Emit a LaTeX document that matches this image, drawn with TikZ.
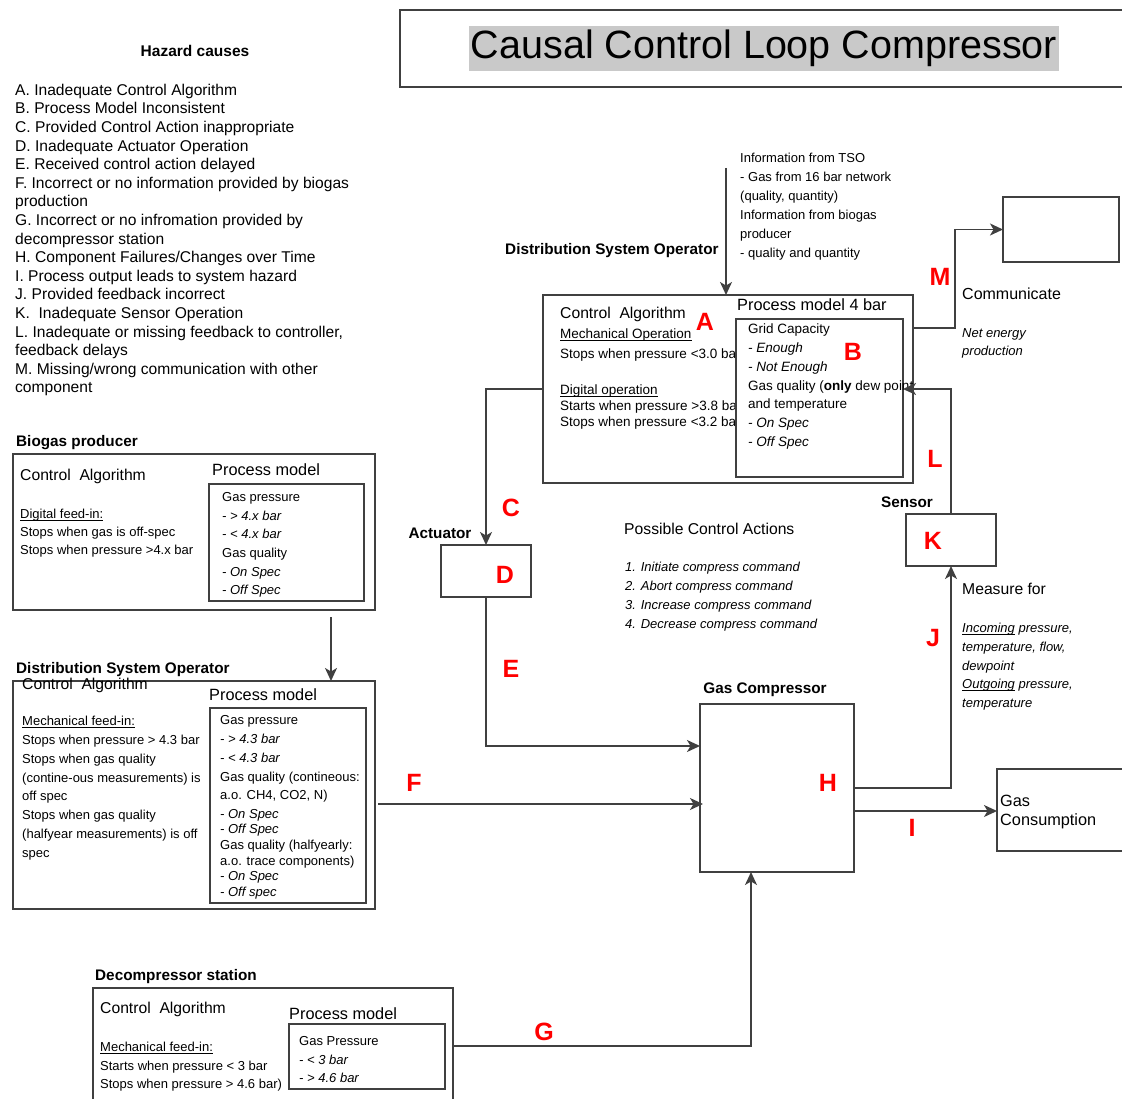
\documentclass[tikz,border=0pt]{standalone}
\usepackage{fontspec}
\setmainfont{Liberation Sans}
\usetikzlibrary{arrows.meta}
\definecolor{ln}{RGB}{64,64,64}
\definecolor{hzred}{RGB}{255,0,0}
\definecolor{ttlbg}{RGB}{201,201,201}
\newcommand\fs[2]{\fontsize{#1}{#2}\selectfont}
\newsavebox\ulbox
\newcommand\ulx[1]{\sbox\ulbox{#1}\leavevmode\rlap{\rule[-1.8pt]{\wd\ulbox}{0.7pt}}\usebox\ulbox}
\begin{document}
\begin{tikzpicture}[x=1pt,y=-1pt,
 box/.style={draw=ln,line width=1.5pt,inner sep=0pt,outer sep=0pt},
 arr/.style={draw=ln,line width=1.5pt,-{Stealth[length=13pt,width=12pt,inset=3.5pt]}},
 tb/.style={anchor=north west,inner sep=0pt,align=left},
 tl/.style={anchor=base west,inner sep=0pt},
 hz/.style={text=hzred,font=\fs{25}{25}\bfseries,inner sep=0pt,anchor=center},
 lbl/.style={anchor=base west,inner sep=0pt,font=\fs{15.3}{18}\bfseries},
]
\useasboundingbox (0,0) rectangle (1122,1099);
\clip (0,0) rectangle (1122,1099);

% ---------- title ----------
\node[box,anchor=north west,minimum width=760pt,minimum height=77pt] (ttlbox) at (400,10) {};
\node[fill=ttlbg,inner xsep=2pt,inner ysep=4pt,font=\fs{39.5}{42}] (ttl) at (764,48.5) {Causal Control Loop Compressor};

% ---------- hazard causes ----------
\node[anchor=base,inner sep=0pt,font=\fs{15.5}{18}\bfseries] (hzt) at (195,57) {Hazard causes};
\node[tb,font=\fs{15.6}{18.6}] (hzl) at (15,82) {\strut A. Inadequate Control Algorithm\\
B. Process Model Inconsistent\\
C. Provided Control Action inappropriate\\
D. Inadequate Actuator Operation\\
E. Received control action delayed\\
F. Incorrect or no information provided by biogas\\
production\\
G. Incorrect or no infromation provided by\\
decompressor station\\
H. Component Failures/Changes over Time\\
I. Process output leads to system hazard\\
J. Provided feedback incorrect\\
K.\ \ Inadequate Sensor Operation\\
L. Inadequate or missing feedback to controller,\\
feedback delays\\
M. Missing/wrong communication with other\\
component};

% ---------- biogas producer ----------
\node[lbl] (biol) at (16,446) {Biogas producer};
\node[box,anchor=north west,minimum width=362pt,minimum height=156pt] (bio) at (13,454) {};
\node[box,anchor=north west,minimum width=155pt,minimum height=117pt] (biopm) at (209,484) {};
\node[tl,font=\fs{15.7}{18}] (bioca) at (20,480) {Control\ \ Algorithm};
\node[tl,font=\fs{16.3}{18}] (biopmt) at (212,475) {Process model};
\node[tb,font=\fs{13}{18}] (biotx) at (20,505.9) {\strut\ulx{Digital feed-in:}\\
Stops when gas is off-spec\\
Stops when pressure >4.x bar};
\node[tb,font=\fs{13}{18.6}] (biopmtx) at (222,488.5) {\strut Gas pressure\\
\textit{- > 4.x bar}\\
\textit{- < 4.x bar}\\
Gas quality\\
\textit{- On Spec}\\
\textit{- Off Spec}};

% ---------- DSO left ----------
\node[lbl] (dsoll) at (16,673) {Distribution System Operator};
\node[box,anchor=north west,minimum width=362pt,minimum height=228pt] (dsol) at (13,681) {};
\node[box,anchor=north west,minimum width=156pt,minimum height=195pt] (dsolpm) at (210,708) {};
\node[tl,font=\fs{15.7}{18}] (dsolca) at (22,689) {Control\ \ Algorithm};
\node[tl,font=\fs{16.3}{18}] (dsolpmt) at (209,700) {Process model};
\node[tb,font=\fs{13}{18.8}] (dsoltx) at (22,712.3) {\strut\ulx{Mechanical feed-in:}\\
Stops when pressure > 4.3 bar\\
Stops when gas quality\\
(contine-ous measurements) is\\
off spec\\
Stops when gas quality\\
(halfyear measurements) is off\\
spec};
\node[tb,font=\fs{13}{18.8}] (dsolpma) at (220,711.3) {\strut Gas pressure\\
\textit{- > 4.3 bar}\\
\textit{- < 4.3 bar}\\
Gas quality (contineous:\\
a.o. CH4, CO2, N)\\
\textit{- On Spec}};
\node[tb,font=\fs{13}{15.75}] (dsolpmb) at (220,822.5) {\strut\textit{- Off Spec}\\
Gas quality (halfyearly:\\
a.o. trace components)\\
\textit{- On Spec}\\
\textit{- Off spec}};

% ---------- decompressor ----------
\node[lbl] (decl) at (95,980) {Decompressor station};
\node[box,anchor=north west,minimum width=360pt,minimum height=140pt] (dec) at (93,988) {};
\node[box,anchor=north west,minimum width=156pt,minimum height=65pt] (decpm) at (289,1024) {};
\node[tl,font=\fs{15.7}{18}] (decca) at (100,1013) {Control\ \ Algorithm};
\node[tl,font=\fs{16.3}{18}] (decpmt) at (289,1019) {Process model};
\node[tb,font=\fs{13}{18.5}] (dectx) at (100,1038.55) {\strut\ulx{Mechanical feed-in:}\\
Starts when pressure < 3 bar\\
Stops when pressure > 4.6 bar)};
\node[tb,font=\fs{13}{18.5}] (decpmtx) at (299,1032.55) {\strut Gas Pressure\\
\textit{- < 3 bar}\\
\textit{- > 4.6 bar}};

% ---------- central DSO ----------
\node[lbl] (dsol2) at (505,255) {Distribution System Operator};
\node[tb,font=\fs{13}{19}] (info) at (740,149.2) {\strut Information from TSO\\
- Gas from 16 bar network\\
(quality, quantity)\\
Information from biogas\\
producer\\
- quality and quantity};
\node[box,anchor=north west,minimum width=370pt,minimum height=188pt] (dso) at (543,295) {};
\node[tl,font=\fs{15.7}{18}] (dsoca) at (560,319) {Control\ \ Algorithm};
\node[tb,font=\fs{13.5}{20}] (dsotx1) at (560,324.5) {\strut\ulx{Mechanical Operation}\\
Stops when pressure <3.0 bar};
\node[tb,font=\fs{13.5}{16}] (dsotx2) at (560,383.3) {\strut\ulx{Digital operation}\\
Starts when pressure >3.8 bar\\
Stops when pressure <3.2 bar};
\node[tl,font=\fs{16.3}{18}] (dsopmt) at (737,311) {Process model 4 bar};
\node[box,fill=white,anchor=north west,minimum width=167pt,minimum height=158pt] (dsopm) at (736,319) {};
\begin{scope}
\clip (736,300) rectangle (912,480);
\node[tb,font=\fs{13.5}{18.8}] (dsopmtx) at (748,320.3) {\strut Grid Capacity\\
\textit{- Enough}\\
\textit{- Not Enough}\\
Gas quality (\textbf{only} dew point\\
and temperature\\
\textit{- On Spec}\\
\textit{- Off Spec}};
\end{scope}

% ---------- other blocks ----------
\node[box,anchor=north west,minimum width=116pt,minimum height=65pt] (other) at (1003,197) {};
\node[tl,font=\fs{16}{18}] (comm) at (962,299.5) {Communicate};
\node[tb,font=\fs{13}{18}\itshape] (neten) at (962,324.9) {\strut Net energy\\
production};

\node[anchor=base,inner sep=0pt,font=\fs{15.3}{18}\bfseries] (actl) at (440,538) {Actuator};
\node[box,anchor=north west,minimum width=90pt,minimum height=52pt] (act) at (441,545) {};

\node[anchor=base,inner sep=0pt,font=\fs{15.3}{18}\bfseries] (sensl) at (907,507) {Sensor};
\node[box,anchor=north west,minimum width=90pt,minimum height=52pt] (sens) at (906,514) {};

\node[anchor=base,inner sep=0pt,font=\fs{15.3}{18}\bfseries] (compl) at (765,693) {Gas Compressor};
\node[box,anchor=north west,minimum width=154pt,minimum height=168pt] (comp) at (700,704) {};

\node[box,anchor=north west,minimum width=140pt,minimum height=82pt] (cons) at (997,769) {};
\node[tb,font=\fs{16.3}{19}] (conslbl) at (1000,792.7) {\strut Gas\\
Consumption};

\node[tl,font=\fs{15.7}{18}] (pcat) at (624,534.5) {Possible Control Actions};
\node[tb,font=\fs{13}{19}\itshape] (pca) at (625,558.2) {\strut 1. Initiate compress command\\
2. Abort compress command\\
3. Increase compress command\\
4. Decrease compress command};

\node[tl,font=\fs{15.7}{18}] (measl) at (962,594.5) {Measure for};
\node[tb,font=\fs{13}{18.75}\itshape] (meas) at (962,619.4) {\strut\ulx{Incoming} pressure,\\
temperature, flow,\\
dewpoint\\
\ulx{Outgoing} pressure,\\
temperature};

% ---------- connectors ----------
\coordinate (tsoin) at (726,168);
\draw[arr] (tsoin) -- (tsoin |- dso.north);
\draw[arr] ([xshift=-44pt,yshift=-7pt]bio.south east) -- ([xshift=-44pt]dsol.north east);
\draw[arr] (dso.west) -| (act.north);
\draw[arr] (act.south) |- ([yshift=42pt]comp.west);
\draw[arr] ([xshift=3pt,yshift=-9pt]dsol.east) -- ([xshift=3pt,yshift=-9pt]dsol.east -| comp.west);
\draw[arr] ([yshift=12pt]dec.east) -| ([xshift=-26pt]comp.south);
\draw[arr] (comp.east) -| (sens.south);
\draw[arr] ([yshift=-23pt]comp.east) -- ([yshift=-23pt]comp.east -| cons.west);
\draw[arr] (sens.north) |- ([yshift=9pt]dsopm.east);
\coordinate (mturn) at (955,328);
\draw[arr] ([yshift=61pt]dso.east) -- (mturn) |- (other.west);

% ---------- hazard letters ----------
\node[hz] (hA) at (705,322) {A};
\node[hz] (hB) at (853,352) {B};
\node[hz] (hC) at (511,508) {C};
\node[hz] (hD) at (505,575) {D};
\node[hz] (hE) at (511,669) {E};
\node[hz] (hF) at (414,783) {F};
\node[hz] (hG) at (544,1032) {G};
\node[hz] (hH) at (828,783) {H};
\node[hz] (hI) at (912,828) {I};
\node[hz] (hJ) at (933,638) {J};
\node[hz] (hK) at (933,541) {K};
\node[hz] (hL) at (935,459) {L};
\node[hz] (hM) at (940,277) {M};
\end{tikzpicture}
\end{document}
